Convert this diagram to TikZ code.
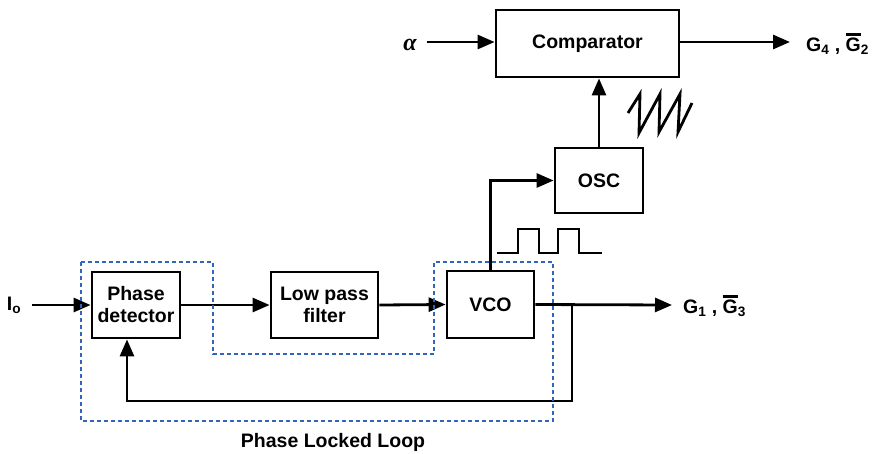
\documentclass[tikz,border=0pt]{standalone}
\usepackage{fontspec}
\setmainfont{Liberation Sans}
\newfontfamily\greekserif{Liberation Serif}
\usetikzlibrary{arrows.meta}

\definecolor{pllblue}{RGB}{50,100,185}
\newcommand\ovl[1]{\leavevmode\vbox{\hrule height 2.6pt\kern 1.8pt\hbox{#1}}}

\begin{document}
\begin{tikzpicture}[x=1pt, y=-1pt,
    every node/.style={font=\bfseries\fontsize{19.5}{22}\selectfont},
    blk/.style={draw, line width=2.8pt, align=center, inner sep=0pt},
    arr/.style={line width=2.8pt, -{Triangle[length=17pt,width=14pt]}},
    wire/.style={line width=2.8pt},
    pll/.style={draw=pllblue, line width=2.2pt, dash pattern=on 4pt off 3pt}]
  \useasboundingbox (0,0) rectangle (878,453);

  % ブロック
  \node[blk, minimum width=183pt, minimum height=67pt] (cmp) at (587.5,43.5) {Comparator};
  \node[blk, minimum width=88pt, minimum height=65pt] (osc) at (599,180.5) {OSC};
  \node[blk, minimum width=87pt, minimum height=67pt] (vco) at (490.5,304.5) {VCO};
  \node[blk, minimum width=88pt, minimum height=66pt] (pd) at (136,305) {Phase\\detector};
  \node[blk, minimum width=107pt, minimum height=66pt] (lpf) at (324.5,305) {Low pass\\filter};

  % 入出力のラベル
  \node[inner sep=0pt, font=\greekserif\bfseries\itshape\fontsize{24}{26}\selectfont] (alph) at (410,45) {α};
  \node[inner sep=0pt] (io) at (14,305) {I\textsubscript{o}};
  \node[inner sep=0pt, anchor=west] (gtop) at (806,44) {G\textsubscript{4} , \ovl{G}\textsubscript{2}};
  \node[inner sep=0pt, anchor=west] (gbot) at (683,306) {G\textsubscript{1} , \ovl{G}\textsubscript{3}};
  \coordinate (topend) at (790,42);
  \coordinate (botend) at (672,305);
  \coordinate (br) at (572,305);

  % 信号線
  \draw[arr] (427,42) -- (cmp.west |- topend);
  \draw[arr] (cmp.east |- topend) -- (topend);
  \draw[arr] (osc.north) -- (osc.north |- cmp.south);
  \draw[arr] (vco.north) |- (osc.west);
  \draw[arr] ([xshift=11pt]io.east) -- (pd.west);
  \draw[arr] (pd.east) -- (lpf.west);
  \draw[arr] (lpf.east) -- (vco.west);
  \draw[arr] (vco.east) -- (botend);
  \draw[arr] (br) -- (572,401) -| ([xshift=-9pt]pd.south);

  % 波形
  \draw[wire, line join=miter] (628,113) -- (640,94) -- (639,133) -- (660,94) -- (659,132)
    -- (680,94) -- (678,132) -- (692,103);
  \draw[wire] (497,253) -- (518,253) -- (518,229) -- (539,229) -- (539,253) -- (558,253)
    -- (558,229) -- (579,229) -- (579,253) -- (602,253);

  % PLL の範囲
  \draw[pll] (81,262) -- (213,262) -- (213,354) -- (434,354) -- (434,262) -- (553,262)
    -- (553,421) -- (81,421) -- cycle;
  \node (plllabel) at (333,442) {Phase Locked Loop};
\end{tikzpicture}
\end{document}
